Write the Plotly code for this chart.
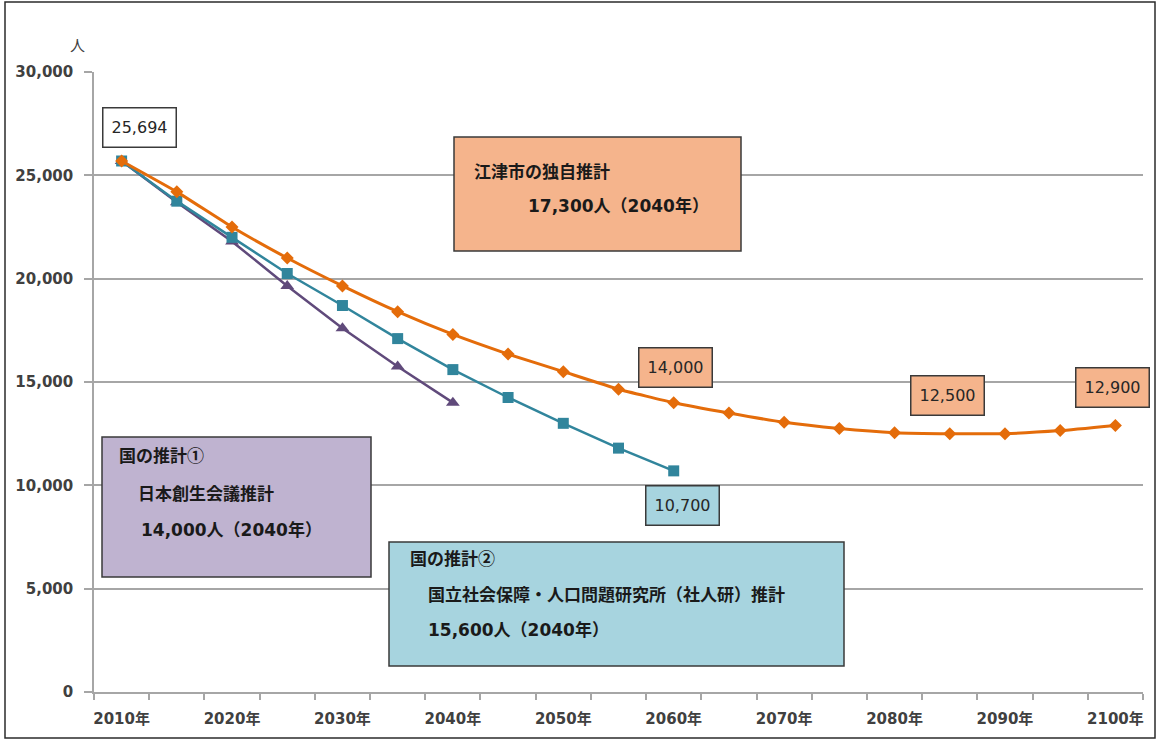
import plotly.graph_objects as go

# Projection years (5-year steps)
years_all = [2010, 2015, 2020, 2025, 2030, 2035, 2040, 2045, 2050, 2055,
             2060, 2065, 2070, 2075, 2080, 2085, 2090, 2095, 2100]

# 江津市の独自推計
gotsu_own = [25694, 24200, 22500, 21000, 19650, 18400, 17300, 16350, 15500, 14650,
             14000, 13500, 13050, 12750, 12550, 12500, 12500, 12650, 12900]

# 国の推計② 社人研推計 (2010-2060)
ipss_years = years_all[:11]
ipss = [25694, 23750, 22000, 20250, 18700, 17100, 15600, 14250, 13000, 11800, 10700]

# 国の推計① 日本創生会議推計 (2010-2040)
jpc_years = years_all[:7]
jpc = [25694, 23700, 21800, 19650, 17600, 15750, 14000]

decade_ticks = list(range(2010, 2101, 10))
decade_labels = [f"{y}年" for y in decade_ticks]
y_ticks = [0, 5000, 10000, 15000, 20000, 25000, 30000]
y_labels = [f"{v:,}" for v in y_ticks]

ORANGE = "#E46C0A"
TEAL = "#31859C"
PURPLE = "#604A7B"
ORANGE_FILL = "#F5B48C"
TEAL_FILL = "#A7D4DF"
PURPLE_FILL = "#BFB3D0"
EDGE = "#3A3A3A"
GRID = "#A6A6A6"
TXT = "#404040"

W, H = 1160, 740
ML, MR, MT, MB = 94, 17, 72, 48
PW, PH = W - ML - MR, H - MT - MB


def fx(x):
    return (x - ML) / PW


def fy(y):
    return (H - MB - y) / PH


fig = go.Figure()

fig.add_trace(go.Scatter(
    x=jpc_years, y=jpc, mode="lines+markers",
    line=dict(color=PURPLE, width=2.5),
    marker=dict(symbol="triangle-up", size=12, color=PURPLE),
    name="国の推計①", showlegend=False, hoverinfo="skip"))

fig.add_trace(go.Scatter(
    x=ipss_years, y=ipss, mode="lines+markers",
    line=dict(color=TEAL, width=2.5),
    marker=dict(symbol="square", size=11, color=TEAL),
    name="国の推計②", showlegend=False, hoverinfo="skip"))

fig.add_trace(go.Scatter(
    x=years_all, y=gotsu_own, mode="lines+markers",
    line=dict(color=ORANGE, width=3, shape="spline", smoothing=0.4),
    marker=dict(symbol="diamond", size=10, color=ORANGE),
    name="江津市の独自推計", showlegend=False, hoverinfo="skip"))

shapes = []
annotations = []

# Outer frame
shapes.append(dict(type="rect", xref="paper", yref="paper",
                   x0=fx(5), x1=fx(1155), y0=fy(738), y1=fy(2),
                   line=dict(color="#2b2b2b", width=1.5), fillcolor="rgba(0,0,0,0)",
                   layer="below"))


def text_box(x0, x1, y0, y1, fill):
    shapes.append(dict(type="rect", xref="paper", yref="paper",
                       x0=fx(x0), x1=fx(x1), y0=fy(y1), y1=fy(y0),
                       fillcolor=fill, line=dict(color=EDGE, width=1.5),
                       layer="above"))


def box_line(x, y, text, family="Noto Sans CJK JP", size=17):
    annotations.append(dict(xref="paper", yref="paper", x=fx(x), y=fy(y),
                            xanchor="left", yanchor="middle", showarrow=False,
                            text=text,
                            font=dict(family=family, size=size,
                                      color="#1a1a1a", weight="bold")))


NUM_FONT = "DejaVu Sans, Noto Sans CJK JP"

# 江津市の独自推計
text_box(454, 741, 137, 251, ORANGE_FILL)
box_line(472, 170, "江津市の独自推計")
box_line(526, 206, f"{gotsu_own[6]:,}人（2040年）", NUM_FONT, 17)

# 国の推計①
text_box(102, 371, 437, 577, PURPLE_FILL)
box_line(117, 455, "国の推計①")
box_line(136, 493, "日本創生会議推計")
box_line(139, 530, f"{jpc[6]:,}人（2040年）", NUM_FONT, 17)

# 国の推計②
text_box(389, 844, 542, 666, TEAL_FILL)
box_line(408, 557, "国の推計②")
box_line(426, 593, "国立社会保障・人口問題研究所（社人研）推計")
box_line(426, 630, f"{ipss[6]:,}人（2040年）", NUM_FONT, 17)


def value_label(year, value, fill, xs, ys):
    annotations.append(dict(x=year, y=value, xref="x", yref="y",
                            text=f"{value:,}", showarrow=False,
                            xshift=xs, yshift=ys,
                            width=62, height=28, borderpad=5,
                            bgcolor=fill, bordercolor=EDGE, borderwidth=1.5,
                            font=dict(family="DejaVu Sans", size=16, color="#262626")))


value_label(years_all[0], gotsu_own[0], "white", 18, 33)
value_label(years_all[10], gotsu_own[10], ORANGE_FILL, 2, 35)
value_label(years_all[15], gotsu_own[15], ORANGE_FILL, -2, 38)
value_label(years_all[18], gotsu_own[18], ORANGE_FILL, -3, 38)
value_label(ipss_years[10], ipss[10], TEAL_FILL, 9, -35)

# Unit label
annotations.append(dict(xref="paper", yref="paper", x=fx(77), y=fy(44),
                        text="人", showarrow=False, xanchor="center", yanchor="middle",
                        font=dict(family="Noto Sans CJK JP", size=15, color=TXT)))

fig.update_layout(
    width=W, height=H,
    margin=dict(l=ML, r=MR, t=MT, b=MB, autoexpand=False),
    paper_bgcolor="white", plot_bgcolor="white",
    shapes=shapes, annotations=annotations,
    xaxis=dict(
        range=[2007.5, 2102.5], showgrid=False, zeroline=False, automargin=False,
        showline=True, linecolor=GRID, linewidth=1.5,
        tickmode="array", tickvals=decade_ticks, ticktext=decade_labels,
        ticks="", ticklabelstandoff=12,
        tickfont=dict(family="DejaVu Sans, Noto Sans CJK JP", size=15, color=TXT, weight="bold"),
        minor=dict(tickmode="linear", tick0=2007.5, dtick=5, ticks="outside",
                   ticklen=6, tickwidth=1.5, tickcolor=GRID, showgrid=False),
    ),
    yaxis=dict(
        range=[0, 30000], showgrid=True, gridcolor=GRID, gridwidth=1.5,
        zeroline=False, showline=True, linecolor=GRID, linewidth=1.5, automargin=False,
        tickmode="array", tickvals=y_ticks, ticktext=y_labels,
        ticks="outside", ticklen=8, tickwidth=1.5, tickcolor=GRID,
        ticklabelstandoff=8,
        tickfont=dict(family="DejaVu Sans", size=15, color=TXT, weight="bold"),
    ),
)

fig.write_html("out.html")
